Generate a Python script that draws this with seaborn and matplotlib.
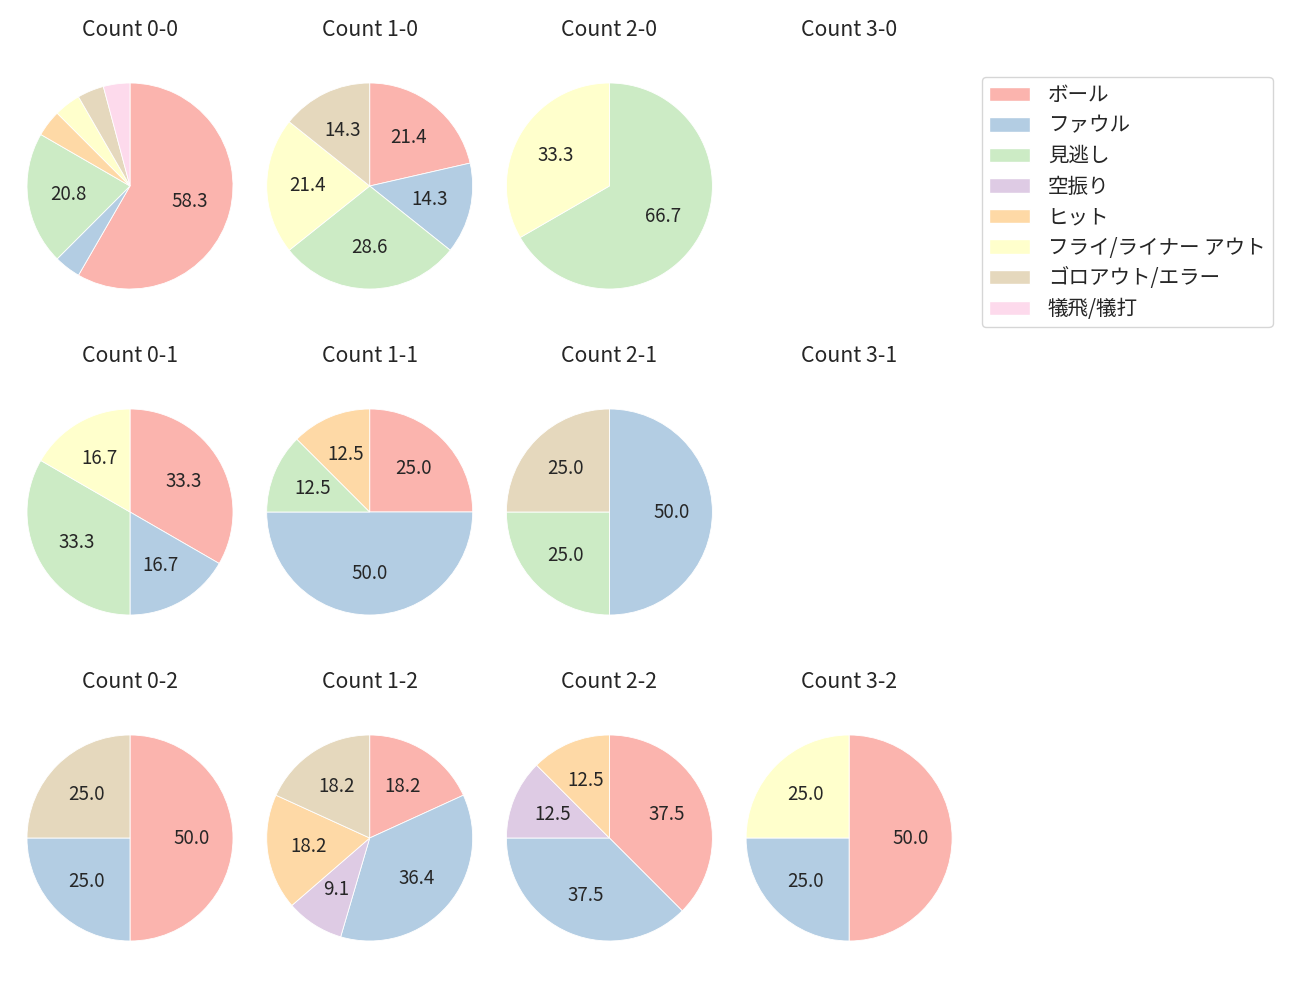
import matplotlib
matplotlib.use("Agg")
import matplotlib.pyplot as plt
from matplotlib.patches import Patch
import seaborn as sns

# ---- data ----
categories = ["ボール", "ファウル", "見逃し", "空振り", "ヒット",
              "フライ/ライナー アウト", "ゴロアウト/エラー", "犠飛/犠打"]
counts = ["0-0", "1-0", "2-0", "3-0",
          "0-1", "1-1", "2-1", "3-1",
          "0-2", "1-2", "2-2", "3-2"]
v_0_0 = [14, 1, 5, 0, 1, 1, 1, 1]
v_1_0 = [3, 2, 4, 0, 0, 3, 2, 0]
v_2_0 = [0, 0, 2, 0, 0, 1, 0, 0]
v_3_0 = [0, 0, 0, 0, 0, 0, 0, 0]
v_0_1 = [2, 1, 2, 0, 0, 1, 0, 0]
v_1_1 = [2, 4, 1, 0, 1, 0, 0, 0]
v_2_1 = [0, 2, 1, 0, 0, 0, 1, 0]
v_3_1 = [0, 0, 0, 0, 0, 0, 0, 0]
v_0_2 = [2, 1, 0, 0, 0, 0, 1, 0]
v_1_2 = [2, 4, 0, 1, 2, 0, 2, 0]
v_2_2 = [3, 3, 0, 1, 1, 0, 0, 0]
v_3_2 = [2, 1, 0, 0, 0, 1, 0, 0]
values = [v_0_0, v_1_0, v_2_0, v_3_0,
          v_0_1, v_1_1, v_2_1, v_3_1,
          v_0_2, v_1_2, v_2_2, v_3_2]

sns.set_style("white")
plt.rcParams["font.family"] = ["Noto Sans CJK JP", "DejaVu Sans"]
colors = sns.color_palette("Pastel1", 8)

W, H = 1300, 1000
fig = plt.figure(figsize=(13, 10), dpi=100)

R = 103.0            # pie radius in px
aw, ah = 239.0, 283.0  # axes box in px

for i, (cnt, vals) in enumerate(zip(counts, values)):
    r, c = divmod(i, 4)
    cx = 130 + 239.7 * c
    cy = 186 + 326 * r
    ax = fig.add_axes([(cx - aw / 2) / W, 1 - (cy + ah / 2) / H, aw / W, ah / H])
    ax.set_title(f"Count {cnt}", fontsize=15.3, pad=6)
    ax.set_axis_off()
    if sum(vals) > 0:
        vv = [v for v in vals if v > 0]
        cc = [colors[k] for k, v in enumerate(vals) if v > 0]
        ax.pie(vv, colors=cc, startangle=90, counterclock=False,
               autopct=lambda p: f"{p:.1f}" if p > 5 else "",
               textprops={"fontsize": 13.5},
               wedgeprops={"linewidth": 0.6, "edgecolor": "white"})
    ax.set_xlim(-aw / 2 / R, aw / 2 / R)
    ax.set_ylim(-ah / 2 / R, ah / 2 / R)
    ax.set_aspect("auto")
    ax.set_axis_off()

handles = [Patch(facecolor=colors[k], label=categories[k]) for k in range(8)]
fig.legend(handles=handles, loc="upper left",
           bbox_to_anchor=(982 / W, 1 - 77 / H), borderaxespad=0,
           fontsize=14.8, frameon=True, handlelength=2.0,
           handletextpad=0.85, labelspacing=0.415, borderpad=0.35)

fig.savefig("out.png", dpi=100)
